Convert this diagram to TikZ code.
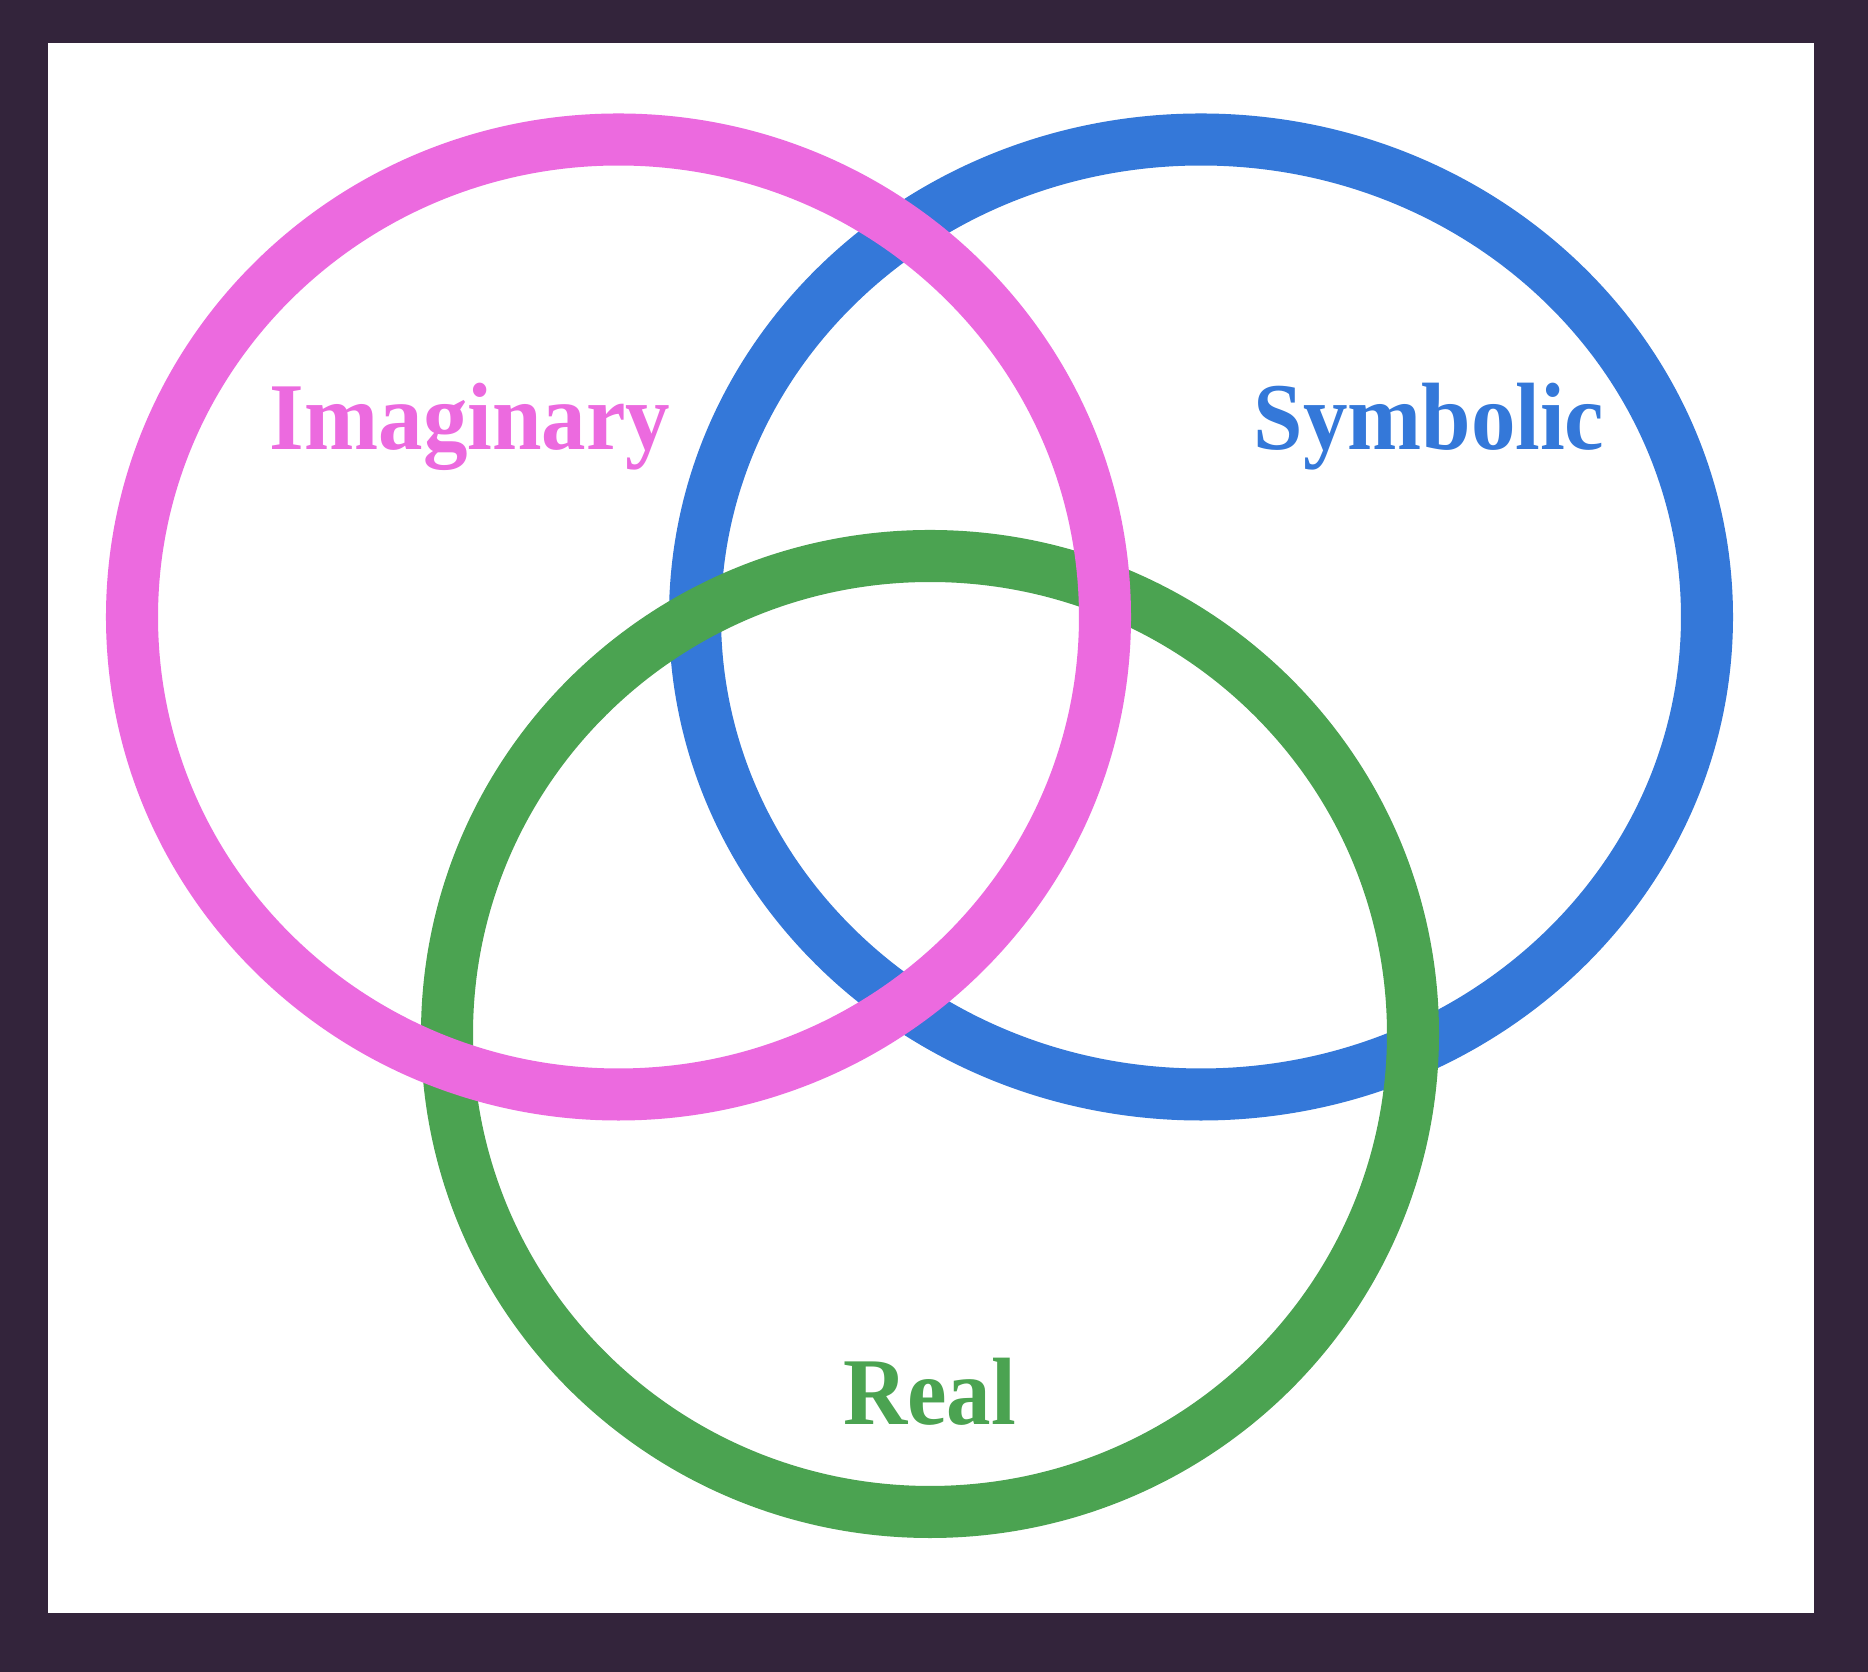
\documentclass[tikz,border=0pt]{standalone}
\usepackage{fontspec}
\setmainfont{Liberation Serif}
\usepackage{xcolor}
\usepackage{graphicx}
\usepackage{tikz}
\usetikzlibrary{positioning}

\definecolor{framebg}{HTML}{33243B}
\definecolor{imagpink}{HTML}{EC6ADF}
\definecolor{symbblue}{HTML}{3478D9}
\definecolor{realgreen}{HTML}{4BA351}

% narrow, tall bold label
\newcommand{\ringword}[1]{\scalebox{0.93}[1]{#1}}

\begin{document}
\begin{tikzpicture}[x=0.01cm, y=0.01cm,
    ring/.style={line width=0.52cm},
    word/.style={anchor=base, inner sep=0pt, font=\bfseries\fontsize{27.2}{32}\selectfont}]
    \fill[framebg] (0,0) rectangle (1868,1672);
    \fill[white] (48,59) rectangle (1814,1629);

    % rings, bottom one first
    \draw[ring, symbblue] (1201,1055) ellipse [x radius=506, y radius=477.5];
    \draw[ring, realgreen] (930,638) ellipse [x radius=483, y radius=478];
    \draw[ring, imagpink] (618.5,1055) ellipse [x radius=486.5, y radius=477.5];

    \node[word, text=imagpink] (imag) at (470,1222) {\ringword{Imaginary}};
    \node[word, text=symbblue] (symb) at (1429,1222) {\ringword{Symbolic}};
    \node[word, text=realgreen] (real) at (929.5,247) {\ringword{Real}};
\end{tikzpicture}
\end{document}
